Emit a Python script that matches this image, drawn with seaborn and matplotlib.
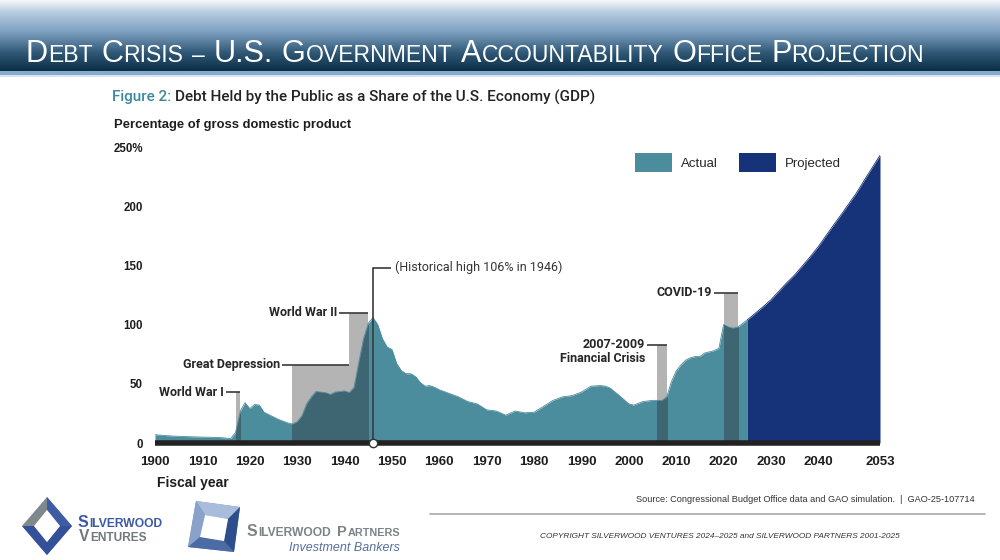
import numpy as np
import matplotlib
matplotlib.use("Agg")
import matplotlib.pyplot as plt
import seaborn as sns
from matplotlib import font_manager as fm
from matplotlib.patches import Patch, Polygon, Rectangle
from matplotlib.colors import LinearSegmentedColormap

# ---------------- data ----------------
actual_years = [1900, 1902, 1904, 1906, 1908, 1910, 1912, 1914, 1916, 1917, 1918, 1919, 1920,
                1921, 1922, 1923, 1924, 1925, 1926, 1927, 1928, 1929, 1930, 1931, 1932, 1933,
                1934, 1935, 1936, 1937, 1938, 1939, 1940, 1941, 1942, 1943, 1944, 1945, 1946,
                1947, 1948, 1949, 1950, 1951, 1952, 1953, 1954, 1955, 1956, 1957, 1958, 1959,
                1960, 1962, 1964, 1966, 1968, 1970, 1972, 1974, 1976, 1978, 1980, 1982, 1984,
                1986, 1988, 1990, 1992, 1994, 1995, 1996, 1998, 2000, 2001, 2003, 2005, 2007,
                2008, 2009, 2010, 2011, 2012, 2013, 2014, 2015, 2016, 2017, 2018, 2019, 2020,
                2021, 2022, 2023, 2024, 2025]
actual_debt = [7.0, 6.3, 5.8, 5.5, 5.2, 5.0, 4.8, 4.5, 3.8, 9.0, 27.0, 34.0, 29.0,
               32.5, 32.0, 26.0, 24.0, 22.0, 20.0, 18.5, 17.0, 16.0, 18.0, 23.0, 33.0, 39.0,
               43.5, 43.0, 42.5, 41.0, 43.0, 43.5, 44.0, 42.5, 47.0, 68.0, 88.0, 101.0, 106.0,
               100.0, 88.0, 81.0, 79.0, 67.0, 61.0, 58.5, 58.5, 56.0, 51.0, 48.0, 48.5, 47.0,
               45.0, 42.0, 39.0, 35.0, 33.0, 28.0, 27.0, 23.5, 27.0, 25.5, 26.0, 31.0, 36.0,
               39.0, 40.0, 43.0, 48.0, 48.5, 48.0, 46.5, 40.0, 33.0, 32.0, 35.0, 36.0, 36.0,
               39.0, 52.0, 61.0, 66.0, 70.0, 72.0, 73.0, 73.0, 76.0, 77.0, 78.0, 80.0, 100.0,
               98.0, 97.0, 98.0, 101.0, 104.0]

proj_years = [2025, 2028, 2030, 2033, 2035, 2038, 2040, 2043, 2045, 2048, 2050, 2053]
proj_debt = [104, 114, 121, 134, 142, 156, 166, 183, 194, 211, 224, 243]

event_labels = ["World War I", "Great Depression", "World War II", "2007-2009", "COVID-19"]
event_sublabels = ["", "", "", "Financial Crisis", ""]
event_start = [1917, 1929, 1941, 2006, 2020]
event_end = [1918, 1941, 1945, 2008, 2023]
event_top = [43, 66, 110, 83, 127]

peak_year = 1946
peak_label = "(Historical high 106% in 1946)"
peak_label_level = 148

x_ticks = [1900, 1910, 1920, 1930, 1940, 1950, 1960, 1970, 1980, 1990, 2000, 2010,
           2020, 2030, 2040, 2053]
y_ticks = [0, 50, 100, 150, 200, 250]
y_tick_labels = ["0", "50", "100", "150", "200", "250%"]

# ---------------- style ----------------
TEAL = "#4b8c9d"
DARK = "#3d6672"
NAVY = "#163278"
GRAY = "#b4b4b4"
LINE = "#3a3a3a"

sns.set_theme(style="white")
names = {f.name for f in fm.fontManager.ttflist}
NARROW = "Liberation Sans Narrow" if "Liberation Sans Narrow" in names else "Liberation Sans"
SANS = "Liberation Sans"
LAB = "Roboto" if "Roboto" in names else SANS
plt.rcParams["font.family"] = [SANS, "DejaVu Sans"]

fig = plt.figure(figsize=(10, 5.6), dpi=100)
fig.patch.set_facecolor("white")

bg = fig.add_axes([0, 0, 1, 1])
bg.set_axis_off()

rows = 77
cmap = LinearSegmentedColormap.from_list(
    "hdr", [(0.0, "#f4f6f9"), (0.16, "#b9cde2"), (0.45, "#7d9fbf"),
            (0.75, "#2f5876"), (1.0, "#0b2f47")])
grad = np.zeros((rows, 2, 3))
for r in range(rows):
    if r < 71:
        grad[r, :, :] = cmap(r / 70.0)[:3]
    elif r < 75:
        grad[r, :, :] = matplotlib.colors.to_rgb("#86abcc")
    else:
        grad[r, :, :] = matplotlib.colors.to_rgb("#d8e4ef")
bg.imshow(grad, extent=[0, 1000, rows, 0], aspect="auto", interpolation="bilinear")
bg.set_xlim(0, 1000)
bg.set_ylim(560, 0)

renderer = fig.canvas.get_renderer()


def width_of(t):
    return t.get_window_extent(renderer).width


def place_seq(pieces, x0, y, gap=0.0, target_w=None, **kw):
    ts = [bg.text(x0, y, s, fontsize=fs, va="baseline", ha="left", **kw) for s, fs in pieces]
    if target_w is not None:
        nat = sum(width_of(t) for t in ts)
        f = (target_w - gap * (len(ts) - 1)) / nat
        for t, (s, fs) in zip(ts, pieces):
            t.set_fontsize(fs * f)
    x = x0
    for t in ts:
        t.set_x(x)
        x += width_of(t) + gap
    return ts


# small-caps title
words = ["DEBT", "CRISIS", "\u2013", "U.S.", "GOVERNMENT", "ACCOUNTABILITY", "OFFICE", "PROJECTION"]
BIG, SMALL = 20, 15
title_pieces = []
for w in words:
    if w == "U.S.":
        title_pieces.append([(w, BIG)])
    elif w == "\u2013":
        title_pieces.append([(w, SMALL)])
    else:
        title_pieces.append([(w[0], BIG), (w[1:], SMALL)])
all_t = []
for word in title_pieces:
    all_t.append([bg.text(0, 62, s, fontsize=fs, family=SANS, color="white",
                          va="baseline", ha="left") for s, fs in word])
GAP = 8
nat = sum(width_of(t) for wt in all_t for t in wt)
f = (898 - GAP * (len(words) - 1)) / nat
for wt, word in zip(all_t, title_pieces):
    for t, (s, fs) in zip(wt, word):
        t.set_fontsize(fs * f)
nat = sum(width_of(t) for wt in all_t for t in wt)
gap = (898 - nat) / (len(words) - 1)
x = 26
for wt in all_t:
    for t in wt:
        t.set_x(x)
        x += width_of(t)
    x += gap

# figure title
t1 = bg.text(112, 97, "Figure 2:", fontsize=11, family=LAB, fontweight="medium",
             color="#3b88a0", va="center", ha="left")
t2 = bg.text(112 + width_of(t1) + 4, 97, "Debt Held by the Public as a Share of the U.S. Economy (GDP)",
             fontsize=11, family=LAB, fontweight="medium", color="#232323", va="center", ha="left")
tw = width_of(t1) + 4 + width_of(t2)
sc = 481.0 / tw
t1.set_fontsize(11 * sc)
t2.set_fontsize(11 * sc)
t2.set_x(112 + width_of(t1) + 4)

tp = bg.text(114, 125, "Percentage of gross domestic product", fontsize=10, family=SANS,
             fontweight="bold", color="#1e1e1e", va="center", ha="left")
tp.set_fontsize(10 * 239.0 / width_of(tp))
bg.text(157, 483, "Fiscal year", fontsize=10, family=NARROW, fontweight="bold",
        color="#1e1e1e", va="center", ha="left")

# source / copyright
ts = bg.text(975, 500, "Source: Congressional Budget Office data and GAO simulation.  |  GAO-25-107714",
             fontsize=7, family=NARROW, color="#333333", va="center", ha="right")
ts.set_fontsize(7 * 338.0 / width_of(ts))
bg.plot([430, 985], [514, 514], color="#a8a8a8", lw=1.2)
tc = bg.text(540, 537, "COPYRIGHT SILVERWOOD VENTURES 2024\u20132025 and SILVERWOOD PARTNERS 2001-2025",
             fontsize=6, family=NARROW, style="italic", color="#333333", va="center", ha="left")
tc.set_fontsize(6 * 363.0 / width_of(tc))

# Silverwood Ventures logo
bg.add_patch(Polygon([(47, 497), (72, 526), (47, 555), (22, 526)], closed=True, color="#7f898d", lw=0))
bg.add_patch(Polygon([(22, 526), (34, 526), (47, 542), (60, 526), (72, 526), (47, 555)],
                     closed=True, color="#34509b", lw=0))
bg.add_patch(Polygon([(60, 526), (72, 526), (47, 497), (47, 510)], closed=True, color="#3e5ca5", lw=0))
bg.add_patch(Polygon([(47, 510), (60, 526), (47, 542), (34, 526)], closed=True, color="white", lw=0))
place_seq([("S", 12.5), ("ILVERWOOD", 9.5)], 78, 527, gap=0.5, target_w=85,
          family=SANS, fontweight="bold", color="#3b5aa5")
place_seq([("V", 12.5), ("ENTURES", 9.5)], 79, 541, gap=0.5, target_w=68,
          family=SANS, fontweight="bold", color="#6f797d")

# Silverwood Partners logo
bg.add_patch(Polygon([(196, 501), (240, 507), (234, 552), (188, 547)], closed=True, color="#6f8cbd", lw=0))
bg.add_patch(Polygon([(196, 501), (240, 507), (228, 519), (205, 515)], closed=True, color="#a9bcdb", lw=0))
bg.add_patch(Polygon([(196, 501), (205, 515), (200, 537), (188, 547)], closed=True, color="#8aa2cb", lw=0))
bg.add_patch(Polygon([(188, 547), (200, 537), (224, 541), (234, 552)], closed=True, color="#4c6aa3", lw=0))
bg.add_patch(Polygon([(240, 507), (234, 552), (224, 541), (228, 519)], closed=True, color="#2d4d8c", lw=0))
bg.add_patch(Polygon([(205, 515), (228, 519), (224, 541), (200, 537)], closed=True, color="white", lw=0))
place_seq([("S", 12), ("ILVERWOOD", 9)], 247, 536, gap=0.5, target_w=84,
          family=SANS, fontweight="bold", color="#7b8387")
place_seq([("P", 12), ("ARTNERS", 9)], 337, 536, gap=0.5, target_w=63,
          family=SANS, fontweight="bold", color="#7b8387")
bg.text(400, 551, "Investment Bankers", fontsize=9, family=SANS, style="italic",
        color="#55709c", va="baseline", ha="right")

# ---------------- chart ----------------
ax = fig.add_axes([155 / 1000, (560 - 443) / 560, 725 / 1000, 296 / 560])
ax.patch.set_alpha(0)
ax.set_xlim(1900, 2053)
ax.set_ylim(0, 250)
for sp in ax.spines.values():
    sp.set_visible(False)

for s, e, top in zip(event_start, event_end, event_top):
    ax.fill_between([s, e], [top, top], 0, color=GRAY, lw=0, zorder=1)

ax.fill_between(actual_years, actual_debt, 0, color=TEAL, lw=0, zorder=2)
sns.lineplot(x=actual_years, y=actual_debt, color=TEAL, lw=0.6, ax=ax, zorder=2)
ax.fill_between(proj_years, proj_debt, 0, color=NAVY, lw=0, zorder=2)
sns.lineplot(x=proj_years, y=proj_debt, color=NAVY, lw=0.6, ax=ax, zorder=2)

for s, e in zip(event_start, event_end):
    poly = ax.fill_between(actual_years, actual_debt, 0, color=DARK, lw=0, zorder=3)
    clip = Rectangle((s, 0), e - s, 300, transform=ax.transData)
    poly.set_clip_path(clip)

yr_per_px = (2053 - 1900) / 725.0
for lab, sub, s, e, top in zip(event_labels, event_sublabels, event_start, event_end, event_top):
    ax.plot([s - 10 * yr_per_px, e], [top, top], color=LINE, lw=1.2, zorder=4, solid_capstyle="butt")
    ax.annotate(lab, xy=(s, top), xytext=(-12 * 0.72, 0), textcoords="offset points",
                ha="right", va="center", fontsize=9, family=LAB, fontweight="bold",
                color="#262626", zorder=5)
    if sub:
        ax.annotate(sub, xy=(s, top), xytext=(-12 * 0.72, -14 * 0.72), textcoords="offset points",
                    ha="right", va="center", fontsize=9, family=LAB, fontweight="bold",
                    color="#262626", zorder=5)

ax.plot([peak_year, peak_year], [0, peak_label_level], color=LINE, lw=1.2, zorder=4)
ax.plot([peak_year, peak_year + 18 * yr_per_px], [peak_label_level, peak_label_level],
        color=LINE, lw=1.2, zorder=4, solid_capstyle="butt")
ax.annotate(peak_label, xy=(peak_year + 18 * yr_per_px, peak_label_level), xytext=(3, 0),
            textcoords="offset points", ha="left", va="center", fontsize=9, family=LAB,
            color="#333333", zorder=5)

ax.plot([1900, 2053], [0, 0], color="#222222", lw=4, zorder=6, solid_capstyle="butt", clip_on=False)
ax.plot([peak_year], [0], marker="o", ms=6, mfc="white", mec="#333333", mew=1.0, zorder=7, clip_on=False)

ax.set_xticks(x_ticks)
ax.set_xticklabels([str(v) for v in x_ticks], family=NARROW, fontweight="bold", fontsize=9.5,
                   color="#1e1e1e")
ax.set_yticks(y_ticks)
ax.set_yticklabels(y_tick_labels, family=SANS, fontweight="bold", fontsize=8.3, color="#1e1e1e")
ax.tick_params(axis="x", length=0, pad=9.5)
ax.tick_params(axis="y", length=0, pad=8.6)
ax.grid(False)

handles = [Patch(facecolor=TEAL, edgecolor="none", label="Actual"),
           Patch(facecolor=NAVY, edgecolor="none", label="Projected")]
leg = fig.legend(handles=handles, loc="upper left", bbox_to_anchor=(635 / 1000, 1 - 153 / 560),
                 bbox_transform=fig.transFigure, ncol=2, frameon=False,
                 handlelength=2.8, handleheight=1.85, handletextpad=0.7, columnspacing=1.6,
                 borderpad=0, borderaxespad=0, prop={"family": SANS, "size": 9.5})
for t in leg.get_texts():
    t.set_color("#262626")

fig.savefig("out.png", dpi=100, facecolor="white")
